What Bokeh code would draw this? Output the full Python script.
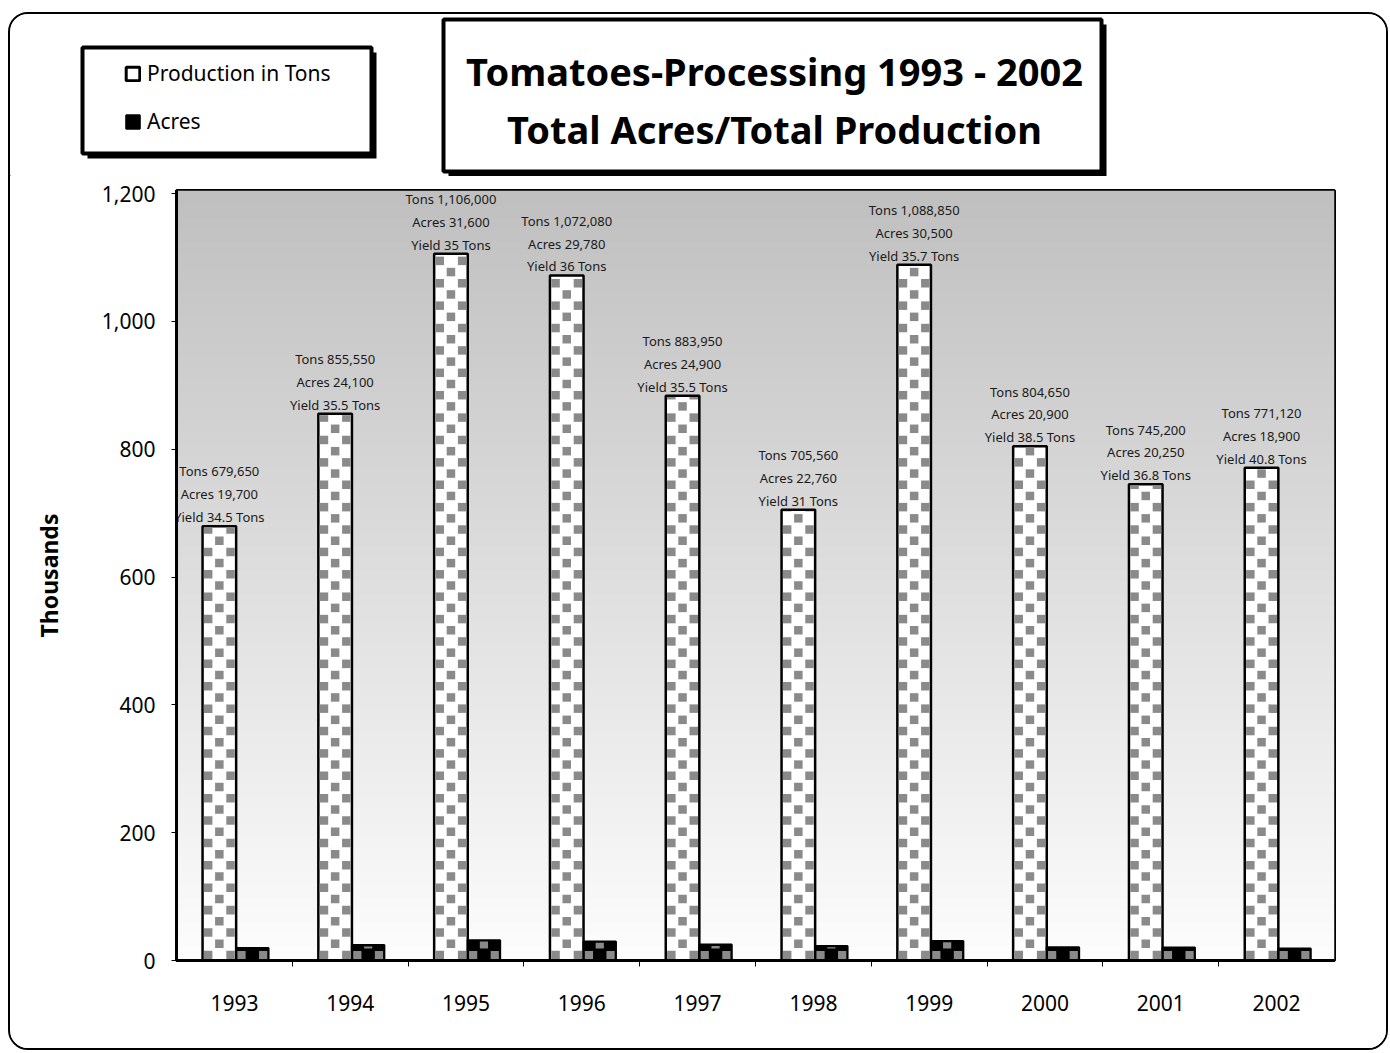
import numpy as np
from bokeh.plotting import figure
from bokeh.layouts import column
from bokeh.models import (ColumnDataSource, Range1d, FixedTicker, NumeralTickFormatter,
                          BoxAnnotation, Label, Legend, LegendItem)
from bokeh.transform import dodge
from bokeh.embed import file_html
from bokeh.resources import INLINE
from bokeh.core.properties import value

# ---------------- data ----------------
years = ["1993", "1994", "1995", "1996", "1997", "1998", "1999", "2000", "2001", "2002"]
tons = [679650, 855550, 1106000, 1072080, 883950, 705560, 1088850, 804650, 745200, 771120]
acres = [19700, 24100, 31600, 29780, 24900, 22760, 30500, 20900, 20250, 18900]
yield_tons = [34.5, 35.5, 35, 36, 35.5, 31, 35.7, 38.5, 36.8, 40.8]
y_ticks = [0, 200, 400, 600, 800, 1000, 1200]
title_lines = ["Tomatoes-Processing 1993 - 2002", "Total Acres/Total Production"]
series_names = ["Production in Tons", "Acres"]

idx = list(range(len(years)))
tons_k = [t / 1000 for t in tons]
acres_k = [a / 1000 for a in acres]
src = ColumnDataSource(dict(
    idx=idx, tons_k=tons_k, acres_k=acres_k,
    note=[f"Tons {t:,}\nAcres {a:,}\nYield {y:g} Tons" for t, a, y in zip(tons, acres, yield_tons)],
))

FONT = "Noto Sans"
GRAY = "#8a8a8a"

W = 1376
HEAD_H = 162
FRAME_W, FRAME_H = 1158, 770
X0, X1 = -0.5, len(years) - 0.5
Y0, Y1 = 0, 1205
PROD_OFF, PROD_W = -0.13, 0.29
ACRE_OFF, ACRE_W = 0.155, 0.28

# ---------------- header (title + legend) ----------------
head = figure(width=W, height=HEAD_H, output_backend="svg", toolbar_location=None,
              x_range=Range1d(0, W), y_range=Range1d(0, HEAD_H),
              min_border=0, min_border_left=0, min_border_right=0, min_border_top=0, min_border_bottom=0)
head.frame_align = False
head.axis.visible = False
head.grid.visible = False
head.outline_line_color = None


def box(fig, l, r, t, b, **kw):
    fig.add_layout(BoxAnnotation(left=l, right=r, top=t, bottom=b, **kw))


# title box + shadow
box(head, 438, 1096, 152, 0, fill_color="black", fill_alpha=1, line_alpha=0)
box(head, 433, 1091, 157, 5, fill_color="white", fill_alpha=1, line_color="black", line_alpha=1, line_width=4)
head.add_layout(Label(x=764, y=106, text=title_lines[0], text_align="center", text_baseline="middle",
                      text_font=FONT, text_font_style="bold", text_font_size="38px", text_color="black"))
head.add_layout(Label(x=764, y=48, text=title_lines[1], text_align="center", text_baseline="middle",
                      text_font=FONT, text_font_style="bold", text_font_size="38px", text_color="black"))

# legend box + shadow
box(head, 77, 366, 124, 18, fill_color="black", fill_alpha=1, line_alpha=0)
box(head, 72, 361, 129, 23, fill_color="white", fill_alpha=1, line_color="black", line_alpha=1, line_width=4)

offscreen = ColumnDataSource(dict(x=[-1000], top=[0]))
d_prod = head.vbar(x="x", top="top", width=1, source=offscreen,
                   fill_color="white", line_color="black", line_width=3)
d_acres = head.vbar(x="x", top="top", width=1, source=offscreen,
                    fill_color="black", line_color="black", line_width=2)
legend = Legend(items=[LegendItem(label=series_names[0], renderers=[d_prod]),
                       LegendItem(label=series_names[1], renderers=[d_acres])],
                location=(114, 40), padding=0, margin=0, spacing=18,
                glyph_width=17, glyph_height=17, label_height=30, label_standoff=6,
                label_text_font=FONT, label_text_font_size="21px", label_text_color="black",
                border_line_color=None, background_fill_alpha=0)
head.add_layout(legend)

# ---------------- main chart ----------------
p = figure(width=W, height=872, output_backend="svg", toolbar_location=None,
           x_range=Range1d(X0, X1), y_range=Range1d(Y0, Y1),
           min_border_left=166, min_border_right=52, min_border_top=14, min_border_bottom=88)
p.frame_align = False

# background gradient inside the plot frame
n = 256
g = np.linspace(253, 192, n).astype(np.uint8)
img = np.empty((n, 1), dtype=np.uint32)
view = img.view(dtype=np.uint8).reshape((n, 1, 4))
view[:, 0, 0] = g
view[:, 0, 1] = g
view[:, 0, 2] = g
view[:, 0, 3] = 255
p.image_rgba(image=[img], x=X0, y=Y0, dw=X1 - X0, dh=Y1 - Y0, level="image")


def checker_cells(centers, width, tops, ncols=3, inset=0.12):
    """Gray squares of a checker fill for each bar, derived from the bar data."""
    px_x = FRAME_W / (X1 - X0)
    px_y = FRAME_H / (Y1 - Y0)
    cw = width / ncols
    ch = cw * px_x / px_y
    L, R, B, T = [], [], [], []
    for c, top in zip(centers, tops):
        left = c - width / 2
        k = 0
        while k * ch < top:
            for j in range(ncols):
                if (j + k) % 2 == 0:
                    b = k * ch + ch * inset
                    t = min((k + 1) * ch - ch * inset, top - ch * 0.12)
                    if t > b:
                        L.append(left + j * cw + cw * inset)
                        R.append(left + (j + 1) * cw - cw * inset)
                        B.append(b)
                        T.append(t)
            k += 1
    return dict(left=L, right=R, bottom=B, top=T)


p.vbar(x=dodge("idx", PROD_OFF, range=p.x_range), top="tons_k", width=PROD_W, source=src,
       fill_color="white", line_color="black", line_width=2.5)
p.quad(source=ColumnDataSource(checker_cells([i + PROD_OFF for i in idx], PROD_W, tons_k)),
       left="left", right="right", bottom="bottom", top="top", fill_color=GRAY, line_color=None)

p.vbar(x=dodge("idx", ACRE_OFF, range=p.x_range), top="acres_k", width=ACRE_W, source=src,
       fill_color="black", line_color="black", line_width=2)
p.quad(source=ColumnDataSource(checker_cells([i + ACRE_OFF for i in idx], ACRE_W, acres_k)),
       left="left", right="right", bottom="bottom", top="top", fill_color=GRAY, line_color=None)

p.text(x=dodge("idx", PROD_OFF, range=p.x_range), y="tons_k", text="note", source=src,
       text_align="center", text_baseline="bottom", y_offset=0,
       text_font=value(FONT), text_font_size="13px", text_font_style="normal",
       text_line_height=1.27, text_color="#1a1a1a")

p.xgrid.visible = False
p.ygrid.visible = False
p.outline_line_color = "black"
p.outline_line_width = 3

p.xaxis.ticker = FixedTicker(ticks=idx, minor_ticks=[i + 0.5 for i in idx[:-1]])
p.xaxis.major_label_overrides = {i: y for i, y in zip(idx, years)}
p.xaxis.major_tick_line_color = None
p.xaxis.minor_tick_out = 6
p.xaxis.minor_tick_in = 0
p.xaxis.minor_tick_line_color = "black"
p.xaxis.axis_line_color = "black"
p.xaxis.axis_line_width = 3
p.xaxis.major_label_standoff = 28
p.xaxis.major_label_text_font = FONT
p.xaxis.major_label_text_font_size = "21px"
p.xaxis.major_label_text_color = "black"

p.yaxis.ticker = FixedTicker(ticks=y_ticks)
p.yaxis.formatter = NumeralTickFormatter(format="0,0")
p.yaxis.minor_tick_line_color = None
p.yaxis.major_tick_out = 5
p.yaxis.major_tick_in = 0
p.yaxis.axis_line_color = "black"
p.yaxis.axis_line_width = 3
p.yaxis.major_label_standoff = 16
p.yaxis.major_label_text_font = FONT
p.yaxis.major_label_text_font_size = "21px"
p.yaxis.major_label_text_color = "black"
p.yaxis.axis_label = "Thousands"
p.yaxis.axis_label_text_font = FONT
p.yaxis.axis_label_text_font_style = "bold"
p.yaxis.axis_label_text_font_size = "23px"
p.yaxis.axis_label_text_color = "black"
p.yaxis.axis_label_standoff = 34

layout = column(head, p, spacing=0,
                styles={"border": "2px solid black", "border-radius": "20px",
                        "margin-left": "8px", "margin-top": "12px", "overflow": "hidden"})

open("out.html", "w").write(file_html(layout, INLINE))
